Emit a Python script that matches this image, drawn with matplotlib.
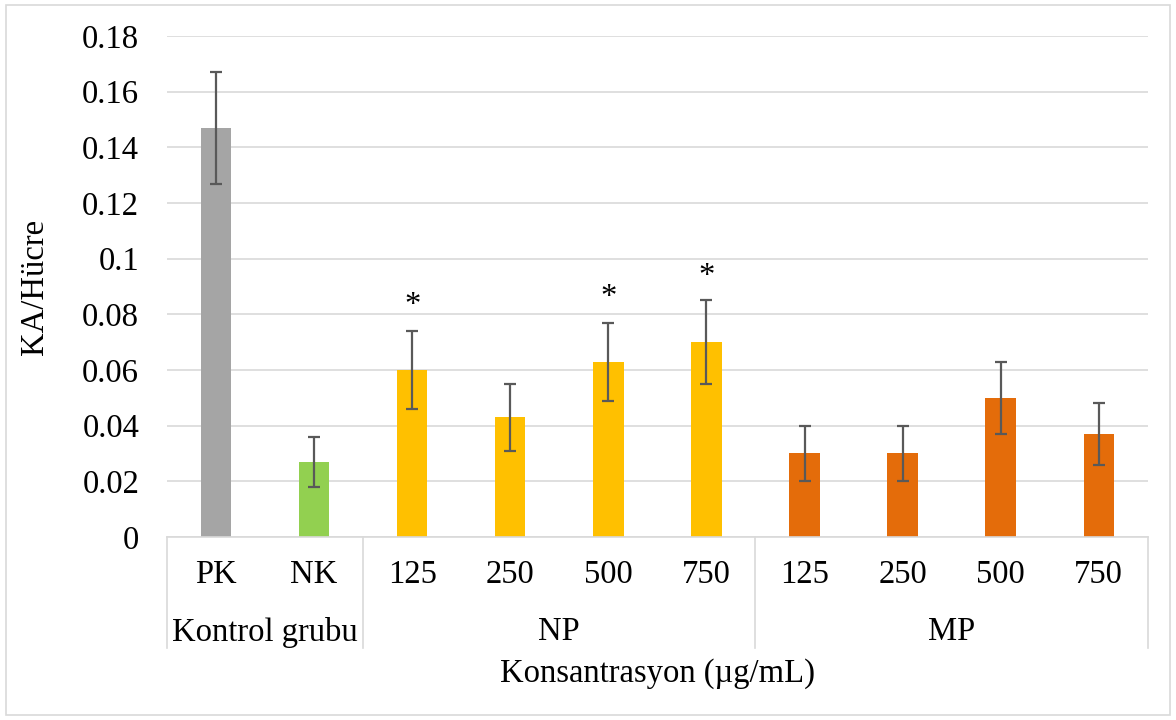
import matplotlib.pyplot as plt
from matplotlib.patches import Rectangle

plt.rcParams['font.family'] = ['Liberation Serif', 'DejaVu Serif']

labels = ["PK", "NK", "125", "250", "500", "750", "125", "250", "500", "750"]
values = [0.147, 0.027, 0.060, 0.043, 0.063, 0.070, 0.030, 0.030, 0.050, 0.037]
errors = [0.020, 0.009, 0.014, 0.012, 0.014, 0.015, 0.010, 0.010, 0.013, 0.011]
colors = ["#A5A5A5", "#92D050"] + ["#FFC000"] * 4 + ["#E46C0A"] * 4

groups = ["Kontrol grubu", "NP", "MP"]
group_sizes = [2, 4, 4]

# asterisks over significant bars
star_idx = [2, 4, 5]
star_y = [0.083, 0.086, 0.0935]

fs = 23.5

fig = plt.figure(figsize=(11.76, 7.2), dpi=100)
ax = fig.add_axes([0.142, 0.2542, 0.834, 0.6958])

x = list(range(len(values)))
ax.bar(x, values, width=0.31, color=colors, zorder=2)
ax.errorbar(x, values, yerr=errors, fmt="none", ecolor="#595959",
            elinewidth=1.6, capsize=4.5, capthick=1.6, zorder=3)

for i, yy in zip(star_idx, star_y):
    ax.text(i, yy, "*", ha="center", va="center", fontsize=fs)

ax.set_xlim(-0.5, len(values) - 0.5)
ax.set_ylim(0, 0.18)
ax.set_yticks([i * 0.02 for i in range(10)])
ax.set_yticklabels(["0"] + ["%g" % (i * 0.02) for i in range(1, 10)], fontsize=fs)
ax.set_xticks(x)
ax.set_xticklabels(labels, fontsize=fs)
ax.tick_params(axis="x", length=0, pad=16)
ax.tick_params(axis="y", length=0, pad=20)

ax.grid(axis="y", color="#D9D9D9", linewidth=1.2, zorder=0)
ax.set_axisbelow(True)
for s in ["top", "right", "left"]:
    ax.spines[s].set_visible(False)
ax.spines["bottom"].set_color("#D9D9D9")
ax.spines["bottom"].set_linewidth(1.2)

ax.set_ylabel("KA/Hücre", fontsize=fs)
ax.yaxis.set_label_coords(-0.119, 0.5)

# group separators and labels under the axis
tr = ax.get_xaxis_transform()
pos = -0.5
for g, n in zip(groups, group_sizes):
    ax.plot([pos, pos], [0, -0.222], transform=tr, color="#D9D9D9",
            linewidth=1.2, clip_on=False)
    ax.text(pos + n / 2, -0.19, g, transform=tr, ha="center", va="center",
            fontsize=fs)
    pos += n
ax.plot([pos, pos], [0, -0.222], transform=tr, color="#D9D9D9",
        linewidth=1.2, clip_on=False)

ax.text(4.5, -0.272, "Konsantrasyon (µg/mL)", transform=tr, ha="center",
        va="center", fontsize=fs)

fig.patches.append(Rectangle((0.005, 0.007), 0.99, 0.986, transform=fig.transFigure,
                             fill=False, edgecolor="#D9D9D9", linewidth=1.2))

fig.savefig("out.png", dpi=100)
